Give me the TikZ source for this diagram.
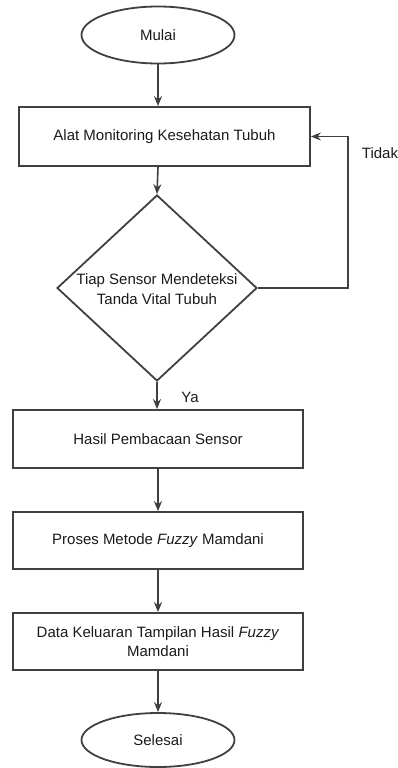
\documentclass[tikz,border=0pt]{standalone}
\usepackage{fontspec}
\setmainfont{Liberation Sans}
\usetikzlibrary{shapes.geometric,arrows.meta}
\definecolor{lin}{HTML}{404040}
\definecolor{txt}{HTML}{1A1A1A}
\tikzset{
  base/.style={draw=lin, line width=1.8pt, text=txt, font=\fontsize{15}{19.5}\selectfont, inner sep=0pt},
  term/.style={base, ellipse, minimum width=153pt, minimum height=57pt},
  proc/.style={base, rectangle, minimum width=290pt, minimum height=58pt, align=center},
  dec/.style={base, diamond, minimum width=200pt, minimum height=186pt},
  lbl/.style={text=txt, font=\fontsize{15}{19.5}\selectfont, inner sep=0pt, align=center},
  conn/.style={draw=lin, line width=1.6pt, -{Stealth[length=10pt,width=8pt]}},
  plain/.style={draw=lin, line width=1.6pt}
}
\begin{document}
\begin{tikzpicture}[x=1pt,y=1pt]
\useasboundingbox (0,0) rectangle (398,-768);
\node[term] (start) at (158,-35) {Mulai};
\node[proc, minimum width=291pt, minimum height=59pt] (b1) at (164.5,-136.5) {Alat Monitoring Kesehatan Tubuh};
\node[dec] (d) at (157,-288) {};
\node[lbl] (dt) at (157,-289) {Tiap Sensor Mendeteksi\\Tanda Vital Tubuh};
\node[proc] (b2) at (158,-439) {Hasil Pembacaan Sensor};
\node[proc, minimum height=57pt] (b3) at (158,-540.5) {Proses Metode \textit{Fuzzy} Mamdani};
\node[proc, minimum height=57pt] (b4) at (158,-641.5) {Data Keluaran Tampilan Hasil \textit{Fuzzy}\\Mamdani};
\node[term, minimum height=54pt] (end) at (158,-740) {Selesai};
\node[lbl] (tidak) at (380,-153) {Tidak};
\node[lbl] (ya) at (190,-397) {Ya};
\coordinate (loopr) at (348,-288);
\draw[conn] (start.south) -- (start.south |- b1.north);
\draw[conn] (start.south |- b1.south) -- (d.north);
\draw[conn] (d.south) -- (d.south |- b2.north);
\draw[conn] (b2.south) -- (b3.north);
\draw[conn] (b3.south) -- (b4.north);
\draw[conn] (b4.south) -- (end.north);
\draw[conn] (d.east) -- (loopr) |- (b1.east);
\end{tikzpicture}
\end{document}
